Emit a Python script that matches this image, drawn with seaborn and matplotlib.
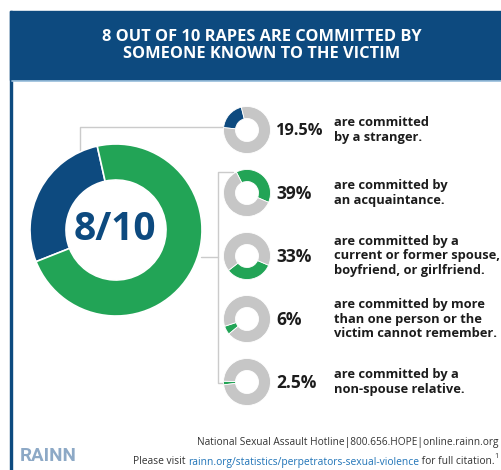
import matplotlib
matplotlib.use("Agg")
import matplotlib.pyplot as plt
import seaborn as sns
from matplotlib.patches import Rectangle

# ---------------- data ----------------
title_text = "8 OUT OF 10 RAPES ARE COMMITTED BY\nSOMEONE KNOWN TO THE VICTIM"
big_labels = ["Stranger", "Known to the victim"]
big_share = [27.5, 72.5]          # share as drawn in the big ring
big_center_label = "8/10"

pct_values = [19.5, 39, 33, 6, 2.5]
pct_labels = ["19.5%", "39%", "33%", "6%", "2.5%"]
descriptions = [
    "are committed\nby a stranger.",
    "are committed by\nan acquaintance.",
    "are committed by a\ncurrent or former spouse,\nboyfriend, or girlfriend.",
    "are committed by more\nthan one person or the\nvictim cannot remember.",
    "are committed by a\nnon-spouse relative.",
]
footer_line1 = "National Sexual Assault Hotline|800.656.HOPE|online.rainn.org"
footer_pre = "Please visit "
footer_link = "rainn.org/statistics/perpetrators-sexual-violence"
footer_post = " for full citation."
footer_sup = "1"
logo_text = "RAINN"

# ---------------- style ----------------
sns.set_theme(style="white")
plt.rcParams["font.family"] = ["Open Sans", "DejaVu Sans"]

NAVY = "#0d4a7f"
GREEN = "#22a456"
GRAY = "#c6c6c6"
LINE = "#cbcbcb"
TEXT = "#1c1c1c"
palette = sns.color_palette([NAVY, GREEN, GRAY])

W, H = 502, 470
fig = plt.figure(figsize=(W / 100, H / 100), dpi=100)
ax = fig.add_axes([0, 0, 1, 1])


def Y(y):
    return H - y


# background frame, header
ax.add_patch(Rectangle((10, Y(470)), 2.5, 470 - 11, color=NAVY, zorder=1))
ax.add_patch(Rectangle((10, Y(80)), W - 10, 80 - 11, color=NAVY, zorder=1))
ax.plot([12.5, W], [Y(80.5), Y(80.5)], color="#9fc3df", lw=1.2, zorder=2)
ax.text(262, Y(45.5), title_text, ha="center", va="center", color="white",
        fontsize=11.8, fontweight="bold", linespacing=1.12, zorder=3)

# connector lines
ax.plot([80, 80, 224], [Y(152), Y(127), Y(127)], color=LINE, lw=1.0, zorder=2)
ax.plot([201, 218], [Y(257), Y(257)], color=LINE, lw=1.0, zorder=2)
ax.plot([233, 218, 218, 227], [Y(172), Y(172), Y(383), Y(383)],
        color=LINE, lw=1.0, zorder=2)

# big donut
ax.pie(big_share, colors=[palette[0], palette[1]], startangle=102.6,
       counterclock=True, radius=86, center=(116, Y(230)), frame=True,
       wedgeprops=dict(width=36, edgecolor="white", linewidth=1.2, zorder=4))
ax.text(115, Y(229), big_center_label, ha="center", va="center", color=NAVY,
        fontsize=28, fontweight="bold", zorder=5)

# small donuts
centers_y = [130, 193, 256, 319, 382]
starts = [104, 117, 218, 198, 178]
clock = [True, False, True, True, True]
seg_colors = [palette[0], palette[1], palette[1], palette[1], palette[1]]
for v, cy, st, cc, col, lab, desc in zip(pct_values, centers_y, starts, clock,
                                         seg_colors, pct_labels, descriptions):
    ax.pie([v, 100 - v], colors=[col, palette[2]], startangle=st,
           counterclock=cc, radius=23.5, center=(247, Y(cy)), frame=True,
           wedgeprops=dict(width=12, edgecolor="white", linewidth=0.6, zorder=4))
    ax.text(276, Y(cy + 1), lab, ha="left", va="center", color=TEXT,
            fontsize=12.5 if lab != "19.5%" else 11.8, fontweight="bold", zorder=5)
    ax.text(334, Y(cy), desc, ha="left", va="center", color=TEXT,
            fontsize=9.3, fontweight="bold", linespacing=1.12, zorder=5)

# footer
ax.text(499, Y(443), footer_line1, ha="right", va="center", color="#333333",
        fontsize=7.3, zorder=5)
fig.canvas.draw()
r = fig.canvas.get_renderer()
ax.text(499, Y(457), footer_sup, ha="right", va="center", color="#333333",
        fontsize=5.2, zorder=5)
x = 495
for s, c in [(footer_post, "#333333"), (footer_link, "#1f73b7"), (footer_pre, "#333333")]:
    t = ax.text(x, Y(462), s, ha="right", va="center", color=c, fontsize=7.4, zorder=5)
    bb = t.get_window_extent(renderer=r)
    x -= bb.width
ax.text(48, Y(456), logo_text, ha="center", va="center", color="#8da9c6",
        fontsize=13.5, fontweight="bold",
        family=["Roboto", "DejaVu Sans"], zorder=5)

ax.set_xlim(0, W)
ax.set_ylim(0, H)
ax.set_aspect("auto")
ax.axis("off")
fig.savefig("out.png", dpi=100, facecolor="white")
